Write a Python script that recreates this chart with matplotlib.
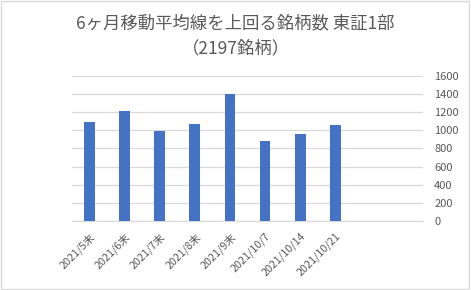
import matplotlib.pyplot as plt
from matplotlib.patches import Rectangle

plt.rcParams["font.family"] = ["Noto Sans CJK JP", "DejaVu Sans"]

categories = ["2021/5末", "2021/6末", "2021/7末", "2021/8末", "2021/9末",
              "2021/10/7", "2021/10/14", "2021/10/21", "", ""]
counts = [1087, 1216, 996, 1069, 1406, 879, 956, 1062]
yticks = [0, 200, 400, 600, 800, 1000, 1200, 1400, 1600]

TEXT = "#595959"
GRID = "#d9d9d9"
BAR = "#4472C4"

fig = plt.figure(figsize=(4.71, 2.90), dpi=100)
ax = fig.add_axes([0.153, 0.238, 0.745, 0.500])

x = list(range(len(categories)))
ax.bar(x[:len(counts)], counts, width=0.31, color=BAR, zorder=3)

ax.set_xlim(-0.5, len(categories) - 0.5)
ax.set_ylim(0, 1600)
ax.set_yticks(yticks)
ax.yaxis.tick_right()
ax.set_xticks(x)
ax.set_xticklabels(categories, rotation=45, ha="right", rotation_mode="anchor")
ax.tick_params(axis="x", length=0, pad=7, labelsize=7.8, labelcolor=TEXT)
ax.tick_params(axis="y", length=0, pad=8, labelsize=8, labelcolor=TEXT)
ax.grid(axis="y", color=GRID, linewidth=0.9, zorder=0)
for side in ("top", "left", "right"):
    ax.spines[side].set_visible(False)
ax.spines["bottom"].set_color(GRID)
ax.spines["bottom"].set_linewidth(0.9)

fig.text(0.5, 0.918, "6ヶ月移動平均線を上回る銘柄数 東証1部", ha="center", va="center",
         fontsize=12.5, color=TEXT)
fig.text(0.5, 0.835, "（2197銘柄）", ha="center", va="center", fontsize=12.5, color=TEXT)

fig.patches.append(Rectangle((0.002, 0.004), 0.994, 0.992, transform=fig.transFigure,
                             fill=False, edgecolor=GRID, linewidth=1.0))

fig.savefig("out.png", dpi=100)
